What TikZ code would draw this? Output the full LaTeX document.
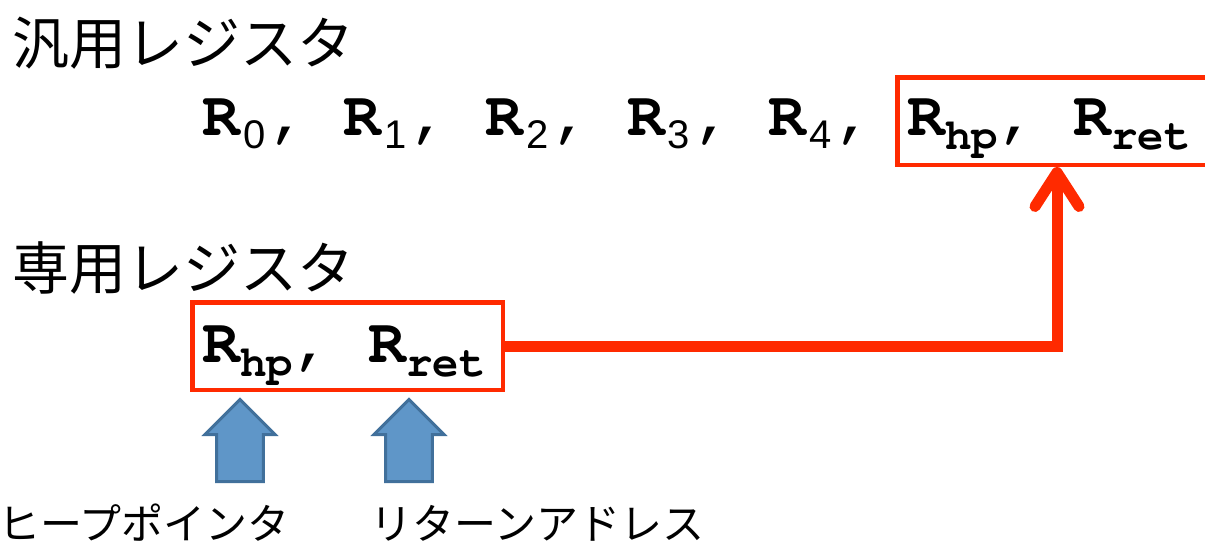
\documentclass[tikz,border=0pt]{standalone}
\usepackage[T1]{fontenc}
\usepackage{fontspec}
\usepackage{tikz}
\usetikzlibrary{arrows.meta,positioning,shapes.arrows}
\newfontfamily\jpfont{Noto Sans CJK JP}
\newfontfamily\digitfont{Liberation Sans}
\newcommand\regfont{\fontencoding{T1}\fontfamily{pcr}\selectfont}
\definecolor{regred}{HTML}{FF2A00}
\definecolor{ptrblue}{HTML}{5F96C8}
\definecolor{ptredge}{HTML}{41709B}
% register name with a lowered index
\newcommand\regname[1]{R\raisebox{-14pt}{\fontsize{44}{44}\selectfont #1}}
\newcommand\regnum[1]{R\raisebox{-13pt}{\digitfont\fontsize{40}{40}\selectfont
\mdseries\hspace{3pt}#1\hspace{3pt}}}

\begin{document}
\begin{tikzpicture}[
x=1pt,y=-1pt,
heading/.style={anchor=base west,inner sep=0pt,
font=\jpfont\fontsize{57}{60}\selectfont},
regs/.style={anchor=base west,inner sep=0pt,
font=\regfont\bfseries\fontsize{63}{70}\selectfont},
regbox/.style={draw=regred,line width=4.5pt,anchor=north west,
inner sep=0pt,minimum width=310.5pt,minimum height=87.5pt},
link/.style={draw=regred,line width=11pt,
-{Straight Barb[length=34pt,width=44pt,round]}},
ptr/.style={single arrow,shape border rotate=90,fill=ptrblue,
draw=ptredge,line width=3pt,inner sep=13pt,
minimum height=82pt,minimum width=70pt,anchor=tail},
note/.style={anchor=base west,inner sep=0pt,
font=\jpfont\fontsize{42}{46}\selectfont}
]
\clip (0,0) rectangle (1205,544);

% general purpose registers
\node[heading] (gphead) at (12,64) {汎用レジスタ};
\node[regs] (gprow) at (202,135)
{\regnum{0}, \regnum{1}, \regnum{2}, \regnum{3}, \regnum{4},};
\node[regbox,minimum width=319.5pt] (gpbox) at (895,75) {};
\node[regs] (gpspec) at (907,135) {\regname{hp}, \regname{ret}};

% special purpose registers
\node[heading] (sphead) at (12,289) {専用レジスタ};
\node[regbox] (spbox) at (190,300) {};
\node[regs] (sprow) at (202,362) {\regname{hp}, \regname{ret}};

\draw[link] (spbox.east) -| (gpbox.south);

% what the two registers hold
\node[ptr] (hparrow) at (240,483) {};
\node[ptr] (retarrow) at (409,483) {};
\node[note] (hpnote) at (-2,539) {ヒープポインタ};
\node[note] (retnote) at (370,539) {リターンアドレス};
\end{tikzpicture}
\end{document}
